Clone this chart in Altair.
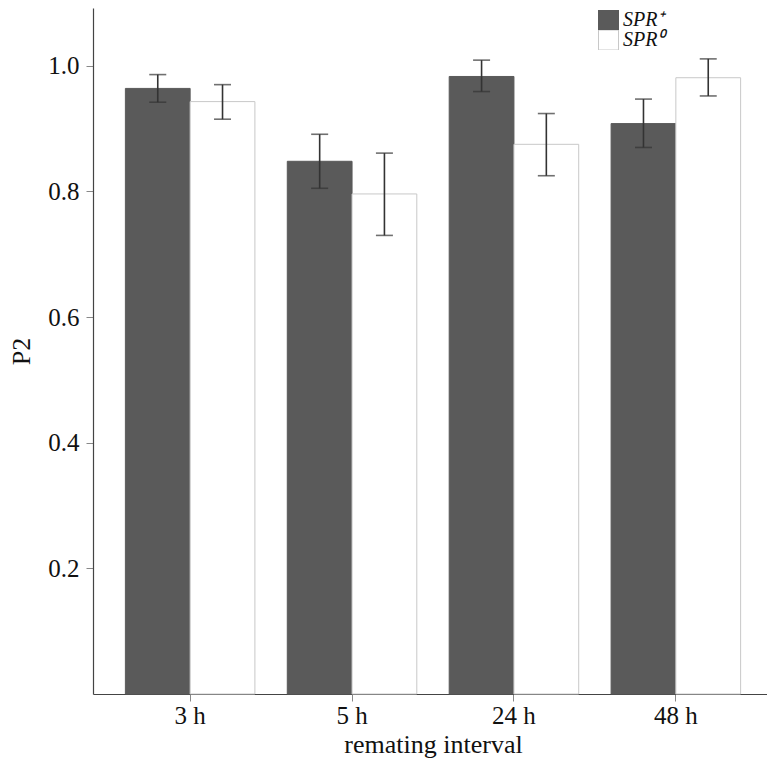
import altair as alt
import pandas as pd

intervals = ["3 h", "5 h", "24 h", "48 h"]
groups = ["SPR⁺", "SPR⁰"]

p2_plus = [0.964, 0.848, 0.983, 0.908]
lo_plus = [0.942, 0.805, 0.959, 0.870]
hi_plus = [0.986, 0.891, 1.009, 0.947]

p2_zero = [0.943, 0.796, 0.875, 0.981]
lo_zero = [0.915, 0.730, 0.825, 0.952]
hi_zero = [0.970, 0.861, 0.924, 1.011]

rows = []
for i, iv in enumerate(intervals):
    rows.append({"interval": iv, "group": groups[0], "p2": p2_plus[i], "lo": lo_plus[i], "hi": hi_plus[i]})
    rows.append({"interval": iv, "group": groups[1], "p2": p2_zero[i], "lo": lo_zero[i], "hi": hi_zero[i]})
df = pd.DataFrame(rows)

FONT = "Liberation Serif"

x = alt.X("interval:N", sort=intervals,
          scale=alt.Scale(paddingInner=0.2, paddingOuter=0.2, range=[0, 680]),
          axis=alt.Axis(title="remating interval", labelAngle=0,
                        titleY=58, titleBaseline="alphabetic"))
xoff = alt.XOffset("group:N", sort=groups, scale=alt.Scale(paddingInner=0, paddingOuter=0))
yscale = alt.Scale(domain=[0, 1.092], nice=False, zero=True)

bars = alt.Chart(df).mark_bar(strokeWidth=1).encode(
    x=x,
    xOffset=xoff,
    y=alt.Y("p2:Q", scale=yscale,
            axis=alt.Axis(title="P2", values=[0.2, 0.4, 0.6, 0.8, 1.0], format=".1f",
                          titleX=-64, titleBaseline="alphabetic")),
    fill=alt.Fill("group:N", sort=groups,
                  scale=alt.Scale(domain=groups, range=["#5a5a5a", "#ffffff"]),
                  legend=alt.Legend(title=None, orient="none", legendX=505, legendY=2,
                                    symbolType="square", symbolSize=400,
                                    labelFont=FONT, labelFontSize=20,
                                    labelFontStyle="italic", labelColor="#111",
                                    rowPadding=0, clipHeight=20, labelOffset=4,
                                    symbolStrokeWidth=1)),
    stroke=alt.Stroke("group:N", sort=groups,
                      scale=alt.Scale(domain=groups, range=["#5a5a5a", "#c8c8c8"]),
                      legend=None),
)

rules = alt.Chart(df).mark_rule(color="#333333", strokeWidth=1.6).encode(
    x=x, xOffset=xoff,
    y=alt.Y("lo:Q", scale=yscale),
    y2="hi:Q",
)

cap_hi = alt.Chart(df).mark_tick(color="#333333", orient="horizontal", size=17, thickness=1.6).encode(
    x=x, xOffset=xoff, y=alt.Y("hi:Q", scale=yscale),
)
cap_lo = alt.Chart(df).mark_tick(color="#333333", orient="horizontal", size=17, thickness=1.6).encode(
    x=x, xOffset=xoff, y=alt.Y("lo:Q", scale=yscale),
)

chart = alt.layer(bars, rules, cap_hi, cap_lo).properties(
    width=674, height=686,
    padding={"left": 85, "top": 0, "right": 0, "bottom": 64},
    autosize=alt.AutoSizeParams(type="none"),
).configure_view(stroke=None).configure_axis(
    labelFont=FONT, titleFont=FONT, labelFontSize=25, titleFontSize=26,
    labelColor="#111", titleColor="#111", titleFontWeight="normal",
    domainColor="#444", domainWidth=1.2, tickColor="#888", tickSize=7,
    grid=False, labelPadding=7,
).configure_axisX(labelPadding=2)

chart.save("out.html", embed_options={"renderer": "svg", "actions": False})
